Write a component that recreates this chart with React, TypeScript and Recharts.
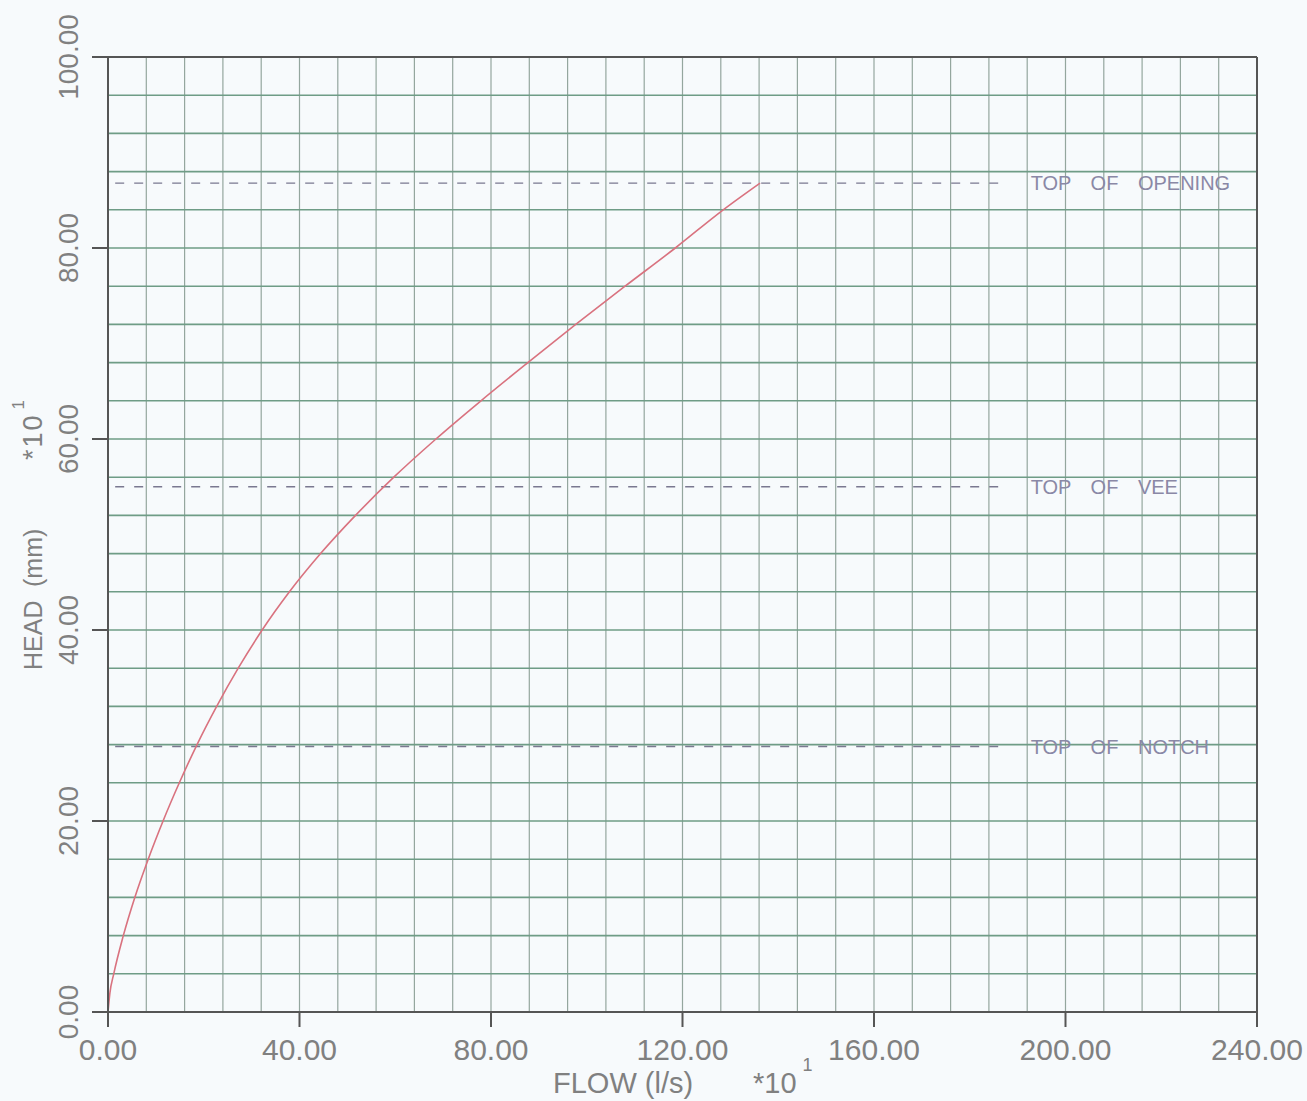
import { LineChart, Line, XAxis, YAxis, ReferenceLine } from 'recharts';

// rating curve (flow *10 l/s, head *10 mm)
const flow = [0, 0.4, 1.2, 3.2, 5.6, 8.4, 11.5, 14.9, 18.6, 22.7, 27.2, 32.2, 37.9, 44.4, 51.7, 59.7, 68.5, 77.9, 87.7, 97.7, 108.0, 118.5, 128.5, 136.2];
const head = [0, 2, 4, 8, 12, 16, 20, 24, 28, 32, 36, 40, 44, 48, 52, 56, 60, 64, 68, 72, 76, 80, 84, 86.8];

const xTicks = [0, 40, 80, 120, 160, 200, 240];
const yTicks = [0, 20, 40, 60, 80, 100];

const levelNames = ['TOP OF OPENING', 'TOP OF VEE', 'TOP OF NOTCH'];
const levelHeads = [86.8, 55.0, 27.8];
const levelStart = 1.5;
const levelEnd = 187.5;

const gridX = Array.from({ length: 29 }, (_, i) => (i + 1) * 8);
const gridY = Array.from({ length: 24 }, (_, i) => (i + 1) * 4);

const data = flow.map((q, i) => ({ q, h: head[i] }));

const FONT = '"Liberation Sans", Arial, sans-serif';
const TEXT = '#808080';
const AXIS = '#555555';

const XTick = ({ x, y, payload }: any) => (
  <text x={x} y={y + 33} textAnchor="middle" fontFamily={FONT} fontSize={30} fill={TEXT}>
    {payload.value.toFixed(2)}
  </text>
);

const YTick = ({ x, y, payload }: any) => (
  <text
    x={x - 14}
    y={y}
    transform={`rotate(-90 ${x - 14} ${y})`}
    textAnchor="middle"
    fontFamily={FONT}
    fontSize={28}
    fill={TEXT}
  >
    {payload.value.toFixed(2)}
  </text>
);

const App = () => {
  return (
    <div style={{ position: 'absolute', left: 0, top: 0, width: 1307, height: 1101, background: '#f7fafc' }}>
      <LineChart width={1307} height={1101} data={data} margin={{ top: 57, right: 50, left: 0, bottom: 0 }}>
        {gridX.map((v) => (
          <ReferenceLine key={`gx-${v}`} x={v} stroke="#94a69e" strokeWidth={1.2} />
        ))}
        {gridY.map((v) => (
          <ReferenceLine key={`gy-${v}`} y={v} stroke="#6f9c86" strokeWidth={1.6} />
        ))}
        <ReferenceLine x={240} stroke={AXIS} strokeWidth={2} />
        <ReferenceLine y={100} stroke={AXIS} strokeWidth={2} />
        {levelHeads.map((h, i) => (
          <ReferenceLine
            key={levelNames[i]}
            segment={[{ x: levelStart, y: h }, { x: levelEnd, y: h }]}
            stroke="#7a7890"
            strokeWidth={1.3}
            strokeDasharray="9 10"
            label={{
              value: levelNames[i],
              position: 'right',
              offset: 25,
              fill: '#8a88a6',
              fontSize: 20,
              fontFamily: FONT,
              wordSpacing: 14,
            }}
          />
        ))}
        <XAxis
          type="number"
          dataKey="q"
          domain={[0, 240]}
          ticks={xTicks}
          height={89}
          tickSize={15}
          tickMargin={0}
          stroke={AXIS}
          strokeWidth={2}
          tick={XTick}
          interval={0}
          allowDataOverflow
        />
        <YAxis
          type="number"
          dataKey="h"
          domain={[0, 100]}
          ticks={yTicks}
          width={108}
          tickSize={16}
          tickMargin={0}
          stroke={AXIS}
          strokeWidth={2}
          tick={YTick}
          interval={0}
          allowDataOverflow
        />
        <Line
          type="monotone"
          dataKey="h"
          stroke="#d9727f"
          strokeWidth={1.6}
          dot={false}
          isAnimationActive={false}
        />
      </LineChart>
      <svg width={1307} height={1101} style={{ position: 'absolute', left: 0, top: 0, pointerEvents: 'none' }}>
        <g fontFamily={FONT} fill={TEXT}>
          <text x={553} y={1093} fontSize={29}>FLOW (l/s)</text>
          <text x={753} y={1093} fontSize={29}>
            *10
            <tspan dy={-22} dx={6} fontSize={18}>1</tspan>
          </text>
          <g transform="rotate(-90)">
            <text x={-670} y={42} fontSize={25}>HEAD</text>
            <text x={-587} y={42} fontSize={25}>(mm)</text>
            <text x={-460} y={42} fontSize={27} letterSpacing={2}>
              *10
              <tspan dy={-18} dx={4} fontSize={17}>1</tspan>
            </text>
          </g>
        </g>
      </svg>
    </div>
  );
};

export default App;
